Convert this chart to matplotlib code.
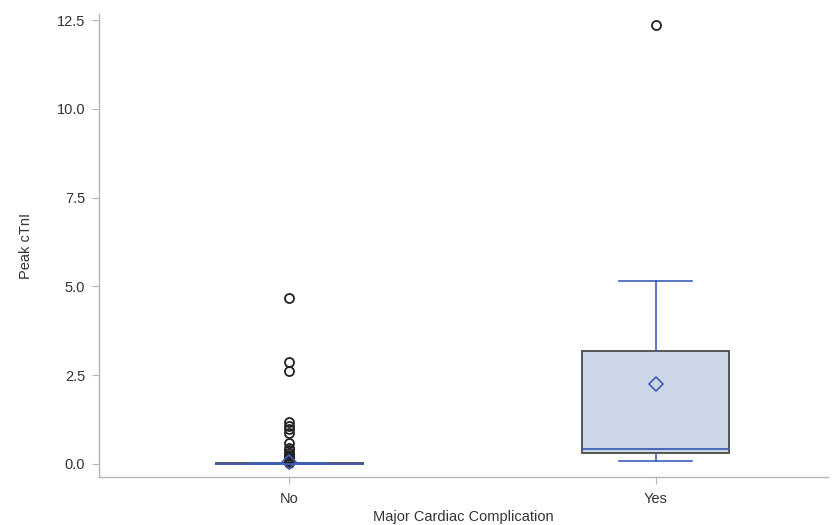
import matplotlib
matplotlib.use("Agg")
import matplotlib.pyplot as plt

# groups
categories = ["No", "Yes"]

# box summary per group
q1 = [0.0, 0.31]
q3 = [0.02, 3.18]
medians = [0.0, 0.42]
means = [0.04, 2.25]
whisker_lo = [0.0, 0.08]
whisker_hi = [0.03, 5.15]

# outliers
fliers_no = [4.67, 2.88, 2.62, 1.17, 1.08, 0.98, 0.88, 0.58, 0.45, 0.38,
             0.32, 0.26, 0.21, 0.17, 0.13, 0.10, 0.07, 0.05, 0.03]
fliers_yes = [12.37]

plt.rcParams["font.family"] = ["Liberation Sans", "DejaVu Sans"]

fig = plt.figure(figsize=(8.34, 5.25), dpi=100)
ax = fig.add_axes([0.1187, 0.0914, 0.874, 0.882])

stats = []
for i, name in enumerate(categories):
    stats.append({
        "label": name,
        "q1": q1[i], "q3": q3[i], "med": medians[i], "mean": means[i],
        "whislo": whisker_lo[i], "whishi": whisker_hi[i],
        "fliers": [fliers_no, fliers_yes][i],
    })

blue = "#3d5fb8"
ax.bxp(
    stats, positions=[0, 1], widths=0.40, patch_artist=True, showmeans=True,
    boxprops=dict(facecolor="#cbd6e6", edgecolor="#555555", linewidth=1.4),
    medianprops=dict(color=blue, linewidth=1.3),
    whiskerprops=dict(color=blue, linewidth=1.2),
    capprops=dict(color=blue, linewidth=1.2),
    capwidths=0.2,
    meanprops=dict(marker="D", markerfacecolor="none", markeredgecolor=blue,
                   markersize=7, markeredgewidth=1.2),
    flierprops=dict(marker="o", markerfacecolor="none", markeredgecolor="#222222",
                    markersize=6.5, markeredgewidth=1.3),
)

ax.set_xlim(-0.52, 1.47)
ax.set_ylim(-0.37, 12.67)
ax.set_yticks([0, 2.5, 5, 7.5, 10, 12.5])
ax.set_yticklabels(["0.0", "2.5", "5.0", "7.5", "10.0", "12.5"])
ax.set_xticks([0, 1])
ax.set_xticklabels(categories)

for side in ["top", "right"]:
    ax.spines[side].set_visible(False)
for side in ["left", "bottom"]:
    ax.spines[side].set_color("#b4b4b4")
    ax.spines[side].set_linewidth(1.0)
ax.tick_params(colors="#b4b4b4", labelcolor="#333333", labelsize=10.5,
               length=5, pad=5)
ax.tick_params(axis="x", pad=6)

ax.set_ylabel("Peak cTnI", fontsize=10.5, color="#333333", labelpad=17)
ax.set_xlabel("Major Cardiac Complication", fontsize=10.5, color="#333333",
              labelpad=3)

fig.savefig("out.png", dpi=100)
